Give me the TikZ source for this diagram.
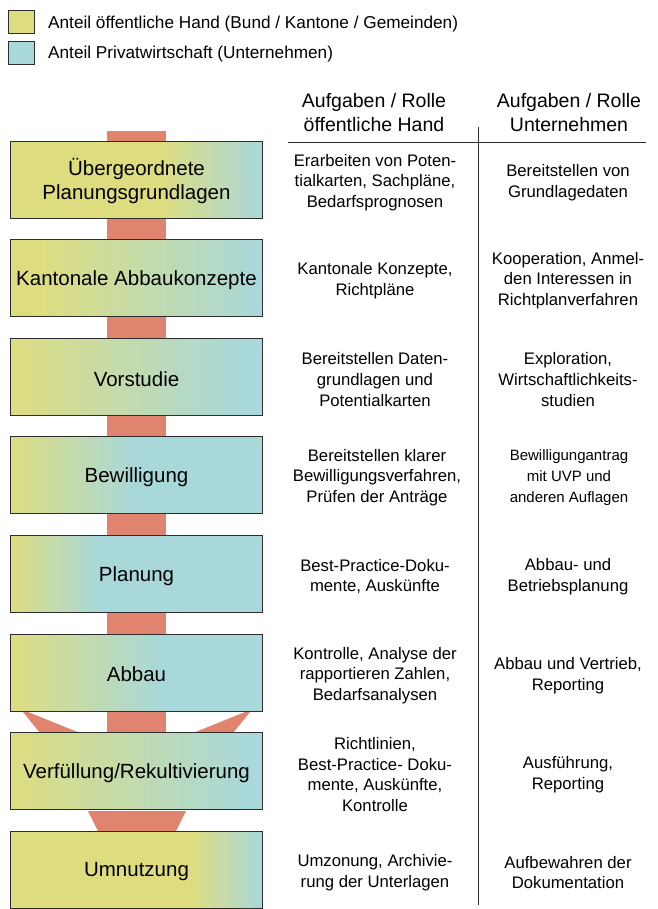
\documentclass[tikz,border=0pt]{standalone}
\usepackage{fontspec}
\setmainfont{Liberation Sans}
\definecolor{yel}{RGB}{221,221,128}
\definecolor{teal}{RGB}{168,216,218}
\definecolor{org}{RGB}{224,132,112}
\definecolor{edge}{RGB}{45,45,45}
\pgfdeclarehorizontalshading{sA}{100bp}{color(0bp)=(yel); color(25bp)=(yel); color(55bp)=(yel); color(75bp)=(teal); color(100bp)=(teal)}
\pgfdeclarehorizontalshading{sB}{100bp}{color(0bp)=(yel); color(25bp)=(yel); color(31bp)=(yel); color(75bp)=(teal); color(100bp)=(teal)}
\pgfdeclarehorizontalshading{sC}{100bp}{color(0bp)=(yel); color(25bp)=(yel); color(71bp)=(teal); color(100bp)=(teal)}
\pgfdeclarehorizontalshading{sD}{100bp}{color(0bp)=(yel); color(25bp)=(yel); color(50bp)=(teal); color(100bp)=(teal)}
\pgfdeclarehorizontalshading{sE}{100bp}{color(0bp)=(yel); color(25bp)=(yel); color(42.5bp)=(teal); color(100bp)=(teal)}
\pgfdeclarehorizontalshading{sF}{100bp}{color(0bp)=(yel); color(25bp)=(yel); color(55bp)=(teal); color(100bp)=(teal)}
\pgfdeclarehorizontalshading{sG}{100bp}{color(0bp)=(yel); color(25bp)=(yel); color(72.5bp)=(teal); color(100bp)=(teal)}
\pgfdeclarehorizontalshading{sH}{100bp}{color(0bp)=(yel); color(25bp)=(yel); color(61bp)=(yel); color(75bp)=(teal); color(100bp)=(teal)}
\tikzset{
  stagebox/.style={draw=edge, line width=1bp, shade, minimum width=251bp, minimum height=77bp,
    inner sep=0pt, align=center, font=\fontsize{20.5bp}{24bp}\selectfont},
  stagelabel/.style={align=center, inner sep=0pt, font=\fontsize{20.5bp}{24bp}\selectfont},
  coltext/.style={align=center, inner sep=0pt, font=\fontsize{16.7bp}{20.8bp}\selectfont},
  smalltext/.style={align=center, inner sep=0pt, font=\fontsize{15bp}{20.8bp}\selectfont},
  headtext/.style={align=center, inner sep=0pt, font=\fontsize{19.5bp}{24bp}\selectfont},
  legsq/.style={draw=edge, line width=1bp, minimum width=25bp, minimum height=23bp, inner sep=0pt},
  legtext/.style={anchor=west, inner sep=0pt, font=\fontsize{17.2bp}{20bp}\selectfont},
  rule/.style={draw=edge, line width=1bp}
}
\begin{document}
\begin{tikzpicture}[x=1bp,y=-1bp]
\useasboundingbox (0,0) rectangle (658,909);
% legend
\node[legsq, fill=yel] (ly) at (21.5,21.5) {};
\node[legsq, fill=teal] (lt) at (21.5,52.5) {};
\node[legtext] (lyt) at (48,24) {Anteil öffentliche Hand (Bund / Kantone / Gemeinden)};
\node[legtext] (ltt) at (48,54) {Anteil Privatwirtschaft (Unternehmen)};
% orange flow
\fill[org] (107,131) rectangle (166,733);
\fill[org] (23,712) -- (28,712) -- (80,733) -- (40,733) -- cycle;
\fill[org] (250,712) -- (245,712) -- (193,733) -- (233,733) -- cycle;
\fill[org] (88,811) -- (186,811) -- (176,831) -- (98,831) -- cycle;
% stage boxes
\node[stagebox, shading=sA] (b1) at (136.5,179.5) {};
\node[stagebox, shading=sB] (b2) at (136.5,278.1) {};
\node[stagebox, shading=sC] (b3) at (136.5,376.7) {};
\node[stagebox, shading=sD] (b4) at (136.5,475.3) {};
\node[stagebox, shading=sE] (b5) at (136.5,573.9) {};
\node[stagebox, shading=sF] (b6) at (136.5,672.5) {};
\node[stagebox, shading=sG] (b7) at (136.5,771.1) {};
\node[stagebox, shading=sH] (b8) at (136.5,869.7) {};
\node[stagelabel] (t1) at ([yshift=-2bp]b1.center) {Übergeordnete\\Planungsgrundlagen};
\node[stagelabel] (t2) at ([yshift=-2bp]b2.center) {Kantonale Abbaukonzepte};
\node[stagelabel] (t3) at ([yshift=-2bp]b3.center) {Vorstudie};
\node[stagelabel] (t4) at ([yshift=-2bp]b4.center) {Bewilligung};
\node[stagelabel] (t5) at ([yshift=-2bp]b5.center) {Planung};
\node[stagelabel] (t6) at ([yshift=-2bp]b6.center) {Abbau};
\node[stagelabel] (t7) at ([yshift=-2bp]b7.center) {Verfüllung/Rekultivierung};
\node[stagelabel] (t8) at ([yshift=-2bp]b8.center) {Umnutzung};
% headers and rules
\node[headtext] (h1) at (374,113) {Aufgaben / Rolle\\öffentliche Hand};
\node[headtext] (h2) at (569,113) {Aufgaben / Rolle\\Unternehmen};
\coordinate (hl) at (288,142);
\coordinate (hr) at (646,142);
\coordinate (vt) at (478,127);
\coordinate (vb) at (478,905);
\draw[rule] (hl) -- (hr);
\draw[rule] (vt) -- (vb);
% left column texts
\node[coltext] (l1) at (375,182.5) {Erarbeiten von Poten-\\tialkarten, Sachpläne,\\Bedarfsprognosen};
\node[coltext] (l2) at (375,280.5) {Kantonale Konzepte,\\Richtpläne};
\node[coltext] (l3) at (375,379.5) {Bereitstellen Daten-\\grundlagen und\\Potentialkarten};
\node[coltext] (l4) at (377,477.5) {Bereitstellen klarer\\Bewilligungsverfahren,\\Prüfen der Anträge};
\node[coltext] (l5) at (375,576.5) {Best-Practice-Doku-\\mente, Auskünfte};
\node[coltext] (l6) at (375,675.5) {Kontrolle, Analyse der\\rapportieren Zahlen,\\Bedarfsanalysen};
\node[coltext] (l7) at (375,774.5) {Richtlinien,\\Best-Practice- Doku-\\mente, Auskünfte,\\Kontrolle};
\node[coltext] (l8) at (375,872.5) {Umzonung, Archivie-\\rung der Unterlagen};
% right column texts
\node[coltext] (r1) at (568,182.5) {Bereitstellen von\\Grundlagedaten};
\node[coltext] (r2) at (568,280.5) {Kooperation, Anmel-\\den Interessen in\\Richtplanverfahren};
\node[coltext] (r3) at (568,379.5) {Exploration,\\Wirtschaftlichkeits-\\studien};
\node[smalltext] (r4) at (569,477.5) {Bewilligungantrag\\mit UVP und\\anderen Auflagen};
\node[coltext] (r5) at (568,576.5) {Abbau- und\\Betriebsplanung};
\node[coltext] (r6) at (568,675.5) {Abbau und Vertrieb,\\Reporting};
\node[coltext] (r7) at (568,774.5) {Ausführung,\\Reporting};
\node[coltext] (r8) at (568,872.5) {Aufbewahren der\\Dokumentation};
\end{tikzpicture}
\end{document}
